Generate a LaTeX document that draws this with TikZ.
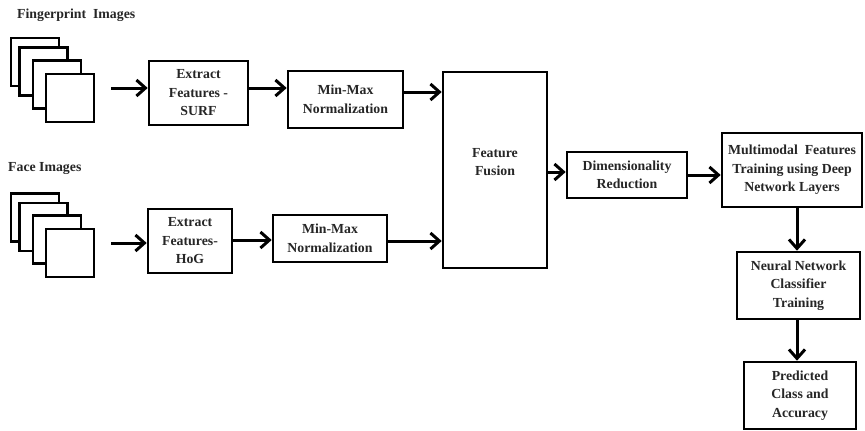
\documentclass[tikz,border=0pt]{standalone}
\usepackage{fontspec}
\setmainfont{Liberation Serif}
\usetikzlibrary{arrows.meta}
\begin{document}
\begin{tikzpicture}[x=1pt,y=-1pt,
  txt/.style={font=\bfseries\fontsize{13.8}{18.5}\selectfont, text=black!85},
  blk/.style={draw, line width=2.6pt, fill=white, align=center, inner sep=0pt, txt},
  img/.style={draw, line width=2.6pt, fill=white, minimum width=48pt, minimum height=48pt, inner sep=0pt},
  arr/.style={line width=3pt, -{Straight Barb[length=9pt,width=16pt,line width=3pt]}},
  lbl/.style={txt, anchor=west, inner sep=0pt}]
\useasboundingbox (0,0) rectangle (865,431);

% input labels
\node[lbl] (fplbl) at (17,15) {Fingerprint\ \ Images};
\node[lbl] (facelbl) at (8,169) {Face Images};

% fingerprint image stack
\node[img] (fp1) at (35,62) {};
\node[img] (fp2) at (43.5,71.5) {};
\node[img] (fp3) at (57,84.5) {};
\node[img] (fp4) at (70,98) {};

% face image stack
\node[img] (fc1) at (35,217.5) {};
\node[img] (fc2) at (43.5,227) {};
\node[img] (fc3) at (57,239.5) {};
\node[img] (fc4) at (70,253) {};

% processing blocks
\node[blk, minimum width=99pt, minimum height=64pt] (surf) at (198.5,93) {Extract\\Features -\\SURF};
\node[blk, minimum width=115pt, minimum height=57pt] (mm1) at (345.5,99.5) {Min-Max\\Normalization};
\node[blk, minimum width=84pt, minimum height=64pt] (hog) at (190,241) {Extract\\Features-\\HoG};
\node[blk, minimum width=114pt, minimum height=47pt] (mm2) at (330,238.5) {Min-Max\\Normalization};
\node[blk, minimum width=104pt, minimum height=196pt] (fusion) at (495,170) {};
\node[txt, align=center] (fusiontxt) at (495,162) {Feature\\Fusion};
\node[blk, minimum width=120pt, minimum height=46pt] (dim) at (627,175) {Dimensionality\\Reduction};
\node[blk, minimum width=140pt, minimum height=74pt] (multi) at (792,170) {Multimodal\ \ Features\\Training using Deep\\Network Layers};
\node[blk, minimum width=123pt, minimum height=67pt] (neural) at (798.5,285.5) {Neural Network\\Classifier\\Training};
\node[blk, minimum width=112pt, minimum height=67pt] (pred) at (800,395.5) {Predicted\\Class and\\Accuracy};

% connector start points
\coordinate (fpout) at ([xshift=16pt,yshift=10pt]fp4.east);
\coordinate (fcout) at ([xshift=16pt,yshift=10pt]fc4.east);
\coordinate (surfout) at ([yshift=5pt]surf.east);
\coordinate (mm1out) at ([yshift=7.5pt]mm1.east);
\coordinate (hogout) at ([yshift=1pt]hog.east);
\coordinate (mm2out) at ([yshift=-2.5pt]mm2.east);
\coordinate (fusout) at ([yshift=-2pt]fusion.east);
\coordinate (multiout) at ([xshift=5pt]multi.south);
\coordinate (neurout) at ([xshift=-1.5pt]neural.south);

% connectors
\draw[arr] (fpout) -- (surf.west |- fpout);
\draw[arr] (surfout) -- (mm1.west |- surfout);
\draw[arr] (mm1out) -- (fusion.west |- mm1out);
\draw[arr] (fcout) -- (hog.west |- fcout);
\draw[arr] (hogout) -- (mm2.west |- hogout);
\draw[arr] (mm2out) -- (fusion.west |- mm2out);
\draw[arr] (fusout) -- (dim.west |- fusout);
\draw[arr] (dim.east) -- (multi.west |- dim.east);
\draw[arr] (multiout) -- (neural.north -| multiout);
\draw[arr] (neurout) -- (pred.north -| neurout);
\end{tikzpicture}
\end{document}
